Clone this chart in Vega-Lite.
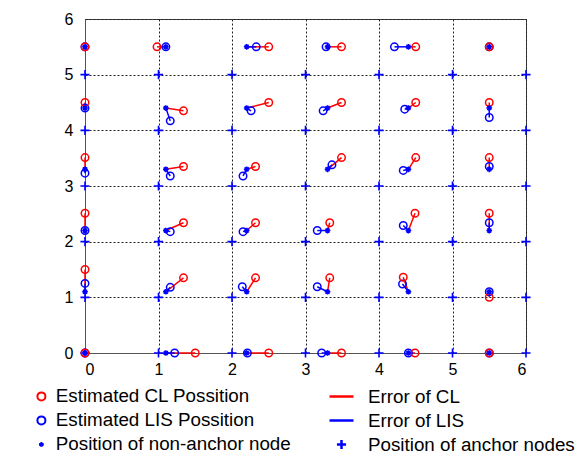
{
  "$schema": "https://vega.github.io/schema/vega-lite/v6.json",
  "width": 441,
  "height": 334,
  "autosize": {"type": "none"},
  "padding": {"left": 85, "top": 19, "right": 58, "bottom": 104},
  "background": "white",
  "config": {
    "font": "Liberation Sans",
    "view": {"stroke": "#444", "strokeWidth": 1},
    "axis": {"grid": true, "gridDash": [2, 2], "gridColor": "#222", "gridWidth": 1, "domainColor": "#555", "ticks": false, "labelFontSize": 16, "labelColor": "black", "title": null},
    "axisX": {"labelPadding": 8},
    "axisY": {"labelPadding": 12}
  },
  "datasets": {
    "nodes": [
      {"tx": 0, "ty": 0, "clx": 0, "cly": 0, "lisx": 0, "lisy": 0},
      {"tx": 1.1, "ty": 0, "clx": 1.5, "cly": 0, "lisx": 1.22, "lisy": 0},
      {"tx": 2.2, "ty": 0, "clx": 2.5, "cly": 0, "lisx": 2.21, "lisy": 0},
      {"tx": 3.3, "ty": 0, "clx": 3.49, "cly": 0, "lisx": 3.22, "lisy": 0},
      {"tx": 4.4, "ty": 0, "clx": 4.49, "cly": 0, "lisx": 4.4, "lisy": 0},
      {"tx": 5.5, "ty": 0, "clx": 5.5, "cly": 0, "lisx": 5.5, "lisy": 0},
      {"tx": 0, "ty": 1.1, "clx": 0, "cly": 1.5, "lisx": 0, "lisy": 1.25},
      {"tx": 1.1, "ty": 1.1, "clx": 1.34, "cly": 1.35, "lisx": 1.16, "lisy": 1.18},
      {"tx": 2.2, "ty": 1.1, "clx": 2.32, "cly": 1.35, "lisx": 2.14, "lisy": 1.19},
      {"tx": 3.3, "ty": 1.1, "clx": 3.33, "cly": 1.35, "lisx": 3.16, "lisy": 1.19},
      {"tx": 4.4, "ty": 1.1, "clx": 4.33, "cly": 1.36, "lisx": 4.32, "lisy": 1.24},
      {"tx": 5.5, "ty": 1.1, "clx": 5.5, "cly": 1.0, "lisx": 5.5, "lisy": 1.1},
      {"tx": 0, "ty": 2.2, "clx": 0, "cly": 2.51, "lisx": 0, "lisy": 2.2},
      {"tx": 1.1, "ty": 2.2, "clx": 1.34, "cly": 2.34, "lisx": 1.16, "lisy": 2.18},
      {"tx": 2.2, "ty": 2.2, "clx": 2.32, "cly": 2.34, "lisx": 2.15, "lisy": 2.18},
      {"tx": 3.3, "ty": 2.2, "clx": 3.33, "cly": 2.34, "lisx": 3.16, "lisy": 2.2},
      {"tx": 4.4, "ty": 2.2, "clx": 4.49, "cly": 2.51, "lisx": 4.33, "lisy": 2.29},
      {"tx": 5.5, "ty": 2.2, "clx": 5.5, "cly": 2.51, "lisx": 5.5, "lisy": 2.34},
      {"tx": 0, "ty": 3.3, "clx": 0, "cly": 3.51, "lisx": 0, "lisy": 3.23},
      {"tx": 1.1, "ty": 3.3, "clx": 1.34, "cly": 3.35, "lisx": 1.16, "lisy": 3.18},
      {"tx": 2.2, "ty": 3.3, "clx": 2.32, "cly": 3.35, "lisx": 2.15, "lisy": 3.18},
      {"tx": 3.3, "ty": 3.3, "clx": 3.49, "cly": 3.51, "lisx": 3.36, "lisy": 3.38},
      {"tx": 4.4, "ty": 3.3, "clx": 4.5, "cly": 3.51, "lisx": 4.33, "lisy": 3.28},
      {"tx": 5.5, "ty": 3.3, "clx": 5.5, "cly": 3.51, "lisx": 5.5, "lisy": 3.35},
      {"tx": 0, "ty": 4.4, "clx": 0, "cly": 4.5, "lisx": 0, "lisy": 4.4},
      {"tx": 1.1, "ty": 4.4, "clx": 1.34, "cly": 4.35, "lisx": 1.16, "lisy": 4.17},
      {"tx": 2.2, "ty": 4.4, "clx": 2.5, "cly": 4.5, "lisx": 2.26, "lisy": 4.35},
      {"tx": 3.3, "ty": 4.4, "clx": 3.49, "cly": 4.5, "lisx": 3.24, "lisy": 4.35},
      {"tx": 4.4, "ty": 4.4, "clx": 4.5, "cly": 4.5, "lisx": 4.35, "lisy": 4.38},
      {"tx": 5.5, "ty": 4.4, "clx": 5.5, "cly": 4.5, "lisx": 5.5, "lisy": 4.23},
      {"tx": 0, "ty": 5.5, "clx": 0, "cly": 5.5, "lisx": 0, "lisy": 5.5},
      {"tx": 1.1, "ty": 5.5, "clx": 0.98, "cly": 5.5, "lisx": 1.1, "lisy": 5.5},
      {"tx": 2.2, "ty": 5.5, "clx": 2.5, "cly": 5.5, "lisx": 2.33, "lisy": 5.5},
      {"tx": 3.3, "ty": 5.5, "clx": 3.49, "cly": 5.5, "lisx": 3.28, "lisy": 5.5},
      {"tx": 4.4, "ty": 5.5, "clx": 4.5, "cly": 5.5, "lisx": 4.21, "lisy": 5.5},
      {"tx": 5.5, "ty": 5.5, "clx": 5.5, "cly": 5.5, "lisx": 5.5, "lisy": 5.5}
    ],
    "anchors": [
      {"ax": 0, "ay": 0}, {"ax": 1, "ay": 0}, {"ax": 2, "ay": 0}, {"ax": 3, "ay": 0}, {"ax": 4, "ay": 0}, {"ax": 5, "ay": 0}, {"ax": 6, "ay": 0},
      {"ax": 0, "ay": 1}, {"ax": 1, "ay": 1}, {"ax": 2, "ay": 1}, {"ax": 3, "ay": 1}, {"ax": 4, "ay": 1}, {"ax": 5, "ay": 1}, {"ax": 6, "ay": 1},
      {"ax": 0, "ay": 2}, {"ax": 1, "ay": 2}, {"ax": 2, "ay": 2}, {"ax": 3, "ay": 2}, {"ax": 4, "ay": 2}, {"ax": 5, "ay": 2}, {"ax": 6, "ay": 2},
      {"ax": 0, "ay": 3}, {"ax": 1, "ay": 3}, {"ax": 2, "ay": 3}, {"ax": 3, "ay": 3}, {"ax": 4, "ay": 3}, {"ax": 5, "ay": 3}, {"ax": 6, "ay": 3},
      {"ax": 0, "ay": 4}, {"ax": 1, "ay": 4}, {"ax": 2, "ay": 4}, {"ax": 3, "ay": 4}, {"ax": 4, "ay": 4}, {"ax": 5, "ay": 4}, {"ax": 6, "ay": 4},
      {"ax": 0, "ay": 5}, {"ax": 1, "ay": 5}, {"ax": 2, "ay": 5}, {"ax": 3, "ay": 5}, {"ax": 4, "ay": 5}, {"ax": 5, "ay": 5}, {"ax": 6, "ay": 5}
    ]
  },
  "layer": [
    {
      "layer": [
        {
          "data": {"name": "nodes"},
          "mark": {"type": "rule", "strokeWidth": 1.5},
          "encoding": {
            "x": {"field": "tx", "type": "quantitative", "scale": {"domain": [0, 6], "nice": false}, "title": null, "axis": {"values": [0, 1, 2, 3, 4, 5, 6], "format": "d"}},
            "y": {"field": "ty", "type": "quantitative", "scale": {"domain": [0, 6], "nice": false}, "title": null, "axis": {"values": [0, 1, 2, 3, 4, 5, 6], "format": "d"}},
            "x2": {"field": "clx"},
            "y2": {"field": "cly"},
            "color": {
              "datum": "Error of CL", "type": "nominal",
              "scale": {"domain": ["Error of CL", "Error of LIS", "Position of anchor nodes"], "range": ["#ff0000", "#0000ff", "#0000ff"]},
              "legend": {"orient": "none", "legendX": 243, "legendY": 364, "title": null, "labelFontSize": 18.8, "labelOffset": 13, "labelLimit": 300, "rowPadding": -3, "symbolSize": 576, "symbolStrokeWidth": 2.5, "padding": 0, "labelColor": "black"}
            }
          }
        },
        {
          "data": {"name": "nodes"},
          "mark": {"type": "rule", "strokeWidth": 1.5},
          "encoding": {
            "x": {"field": "tx", "type": "quantitative", "title": null},
            "y": {"field": "ty", "type": "quantitative", "title": null},
            "x2": {"field": "lisx"},
            "y2": {"field": "lisy"},
            "color": {"datum": "Error of LIS", "type": "nominal"}
          }
        },
        {
          "data": {"name": "anchors"},
          "mark": {"type": "point", "filled": false, "strokeWidth": 1.6, "opacity": 1, "size": 576},
          "encoding": {
            "x": {"field": "ax", "type": "quantitative", "title": null},
            "y": {"field": "ay", "type": "quantitative", "title": null},
            "color": {"datum": "Position of anchor nodes", "type": "nominal"},
            "shape": {"datum": "Position of anchor nodes", "type": "nominal", "scale": {"domain": ["Error of CL", "Error of LIS", "Position of anchor nodes"], "range": ["stroke", "stroke", "M-0.38,0L0.38,0M0,-0.38L0,0.38"]}}
          }
        }
      ]
    },
    {
      "layer": [
        {
          "data": {"name": "nodes"},
          "mark": {"type": "point", "filled": false, "strokeWidth": 1.5, "opacity": 1, "size": 56},
          "encoding": {
            "x": {"field": "lisx", "type": "quantitative", "title": null},
            "y": {"field": "lisy", "type": "quantitative", "title": null},
            "color": {
              "datum": "Estimated LIS Possition", "type": "nominal",
              "scale": {"domain": ["Estimated CL Possition", "Estimated LIS Possition", "Position of non-anchor node"], "range": ["#ff0000", "#0000ff", "#0000ff"]},
              "legend": {"orient": "none", "legendX": -53, "legendY": 368, "title": null, "labelFontSize": 18.8, "labelOffset": 5, "labelLimit": 300, "rowPadding": 4, "symbolSize": 64, "symbolStrokeWidth": 2, "padding": 0, "labelColor": "black"}
            },
            "shape": {"datum": "Estimated LIS Possition", "type": "nominal", "scale": {"domain": ["Estimated CL Possition", "Estimated LIS Possition", "Position of non-anchor node"], "range": ["circle", "circle", "M-0.6,0L0.6,0M0,-0.6L0,0.6M-0.42,-0.42L0.42,0.42M-0.42,0.42L0.42,-0.42"]}}
          }
        },
        {
          "data": {"name": "nodes"},
          "mark": {"type": "point", "filled": false, "strokeWidth": 1.5, "opacity": 1, "size": 56},
          "encoding": {
            "x": {"field": "clx", "type": "quantitative", "title": null},
            "y": {"field": "cly", "type": "quantitative", "title": null},
            "color": {"datum": "Estimated CL Possition", "type": "nominal"},
            "shape": {"datum": "Estimated CL Possition", "type": "nominal"}
          }
        },
        {
          "data": {"name": "nodes"},
          "mark": {"type": "point", "filled": false, "strokeWidth": 1.5, "opacity": 1, "size": 90},
          "encoding": {
            "x": {"field": "tx", "type": "quantitative", "title": null},
            "y": {"field": "ty", "type": "quantitative", "title": null},
            "color": {"datum": "Position of non-anchor node", "type": "nominal"},
            "shape": {"datum": "Position of non-anchor node", "type": "nominal"}
          }
        }
      ]
    }
  ],
  "resolve": {"scale": {"color": "independent", "shape": "independent"}}
}
